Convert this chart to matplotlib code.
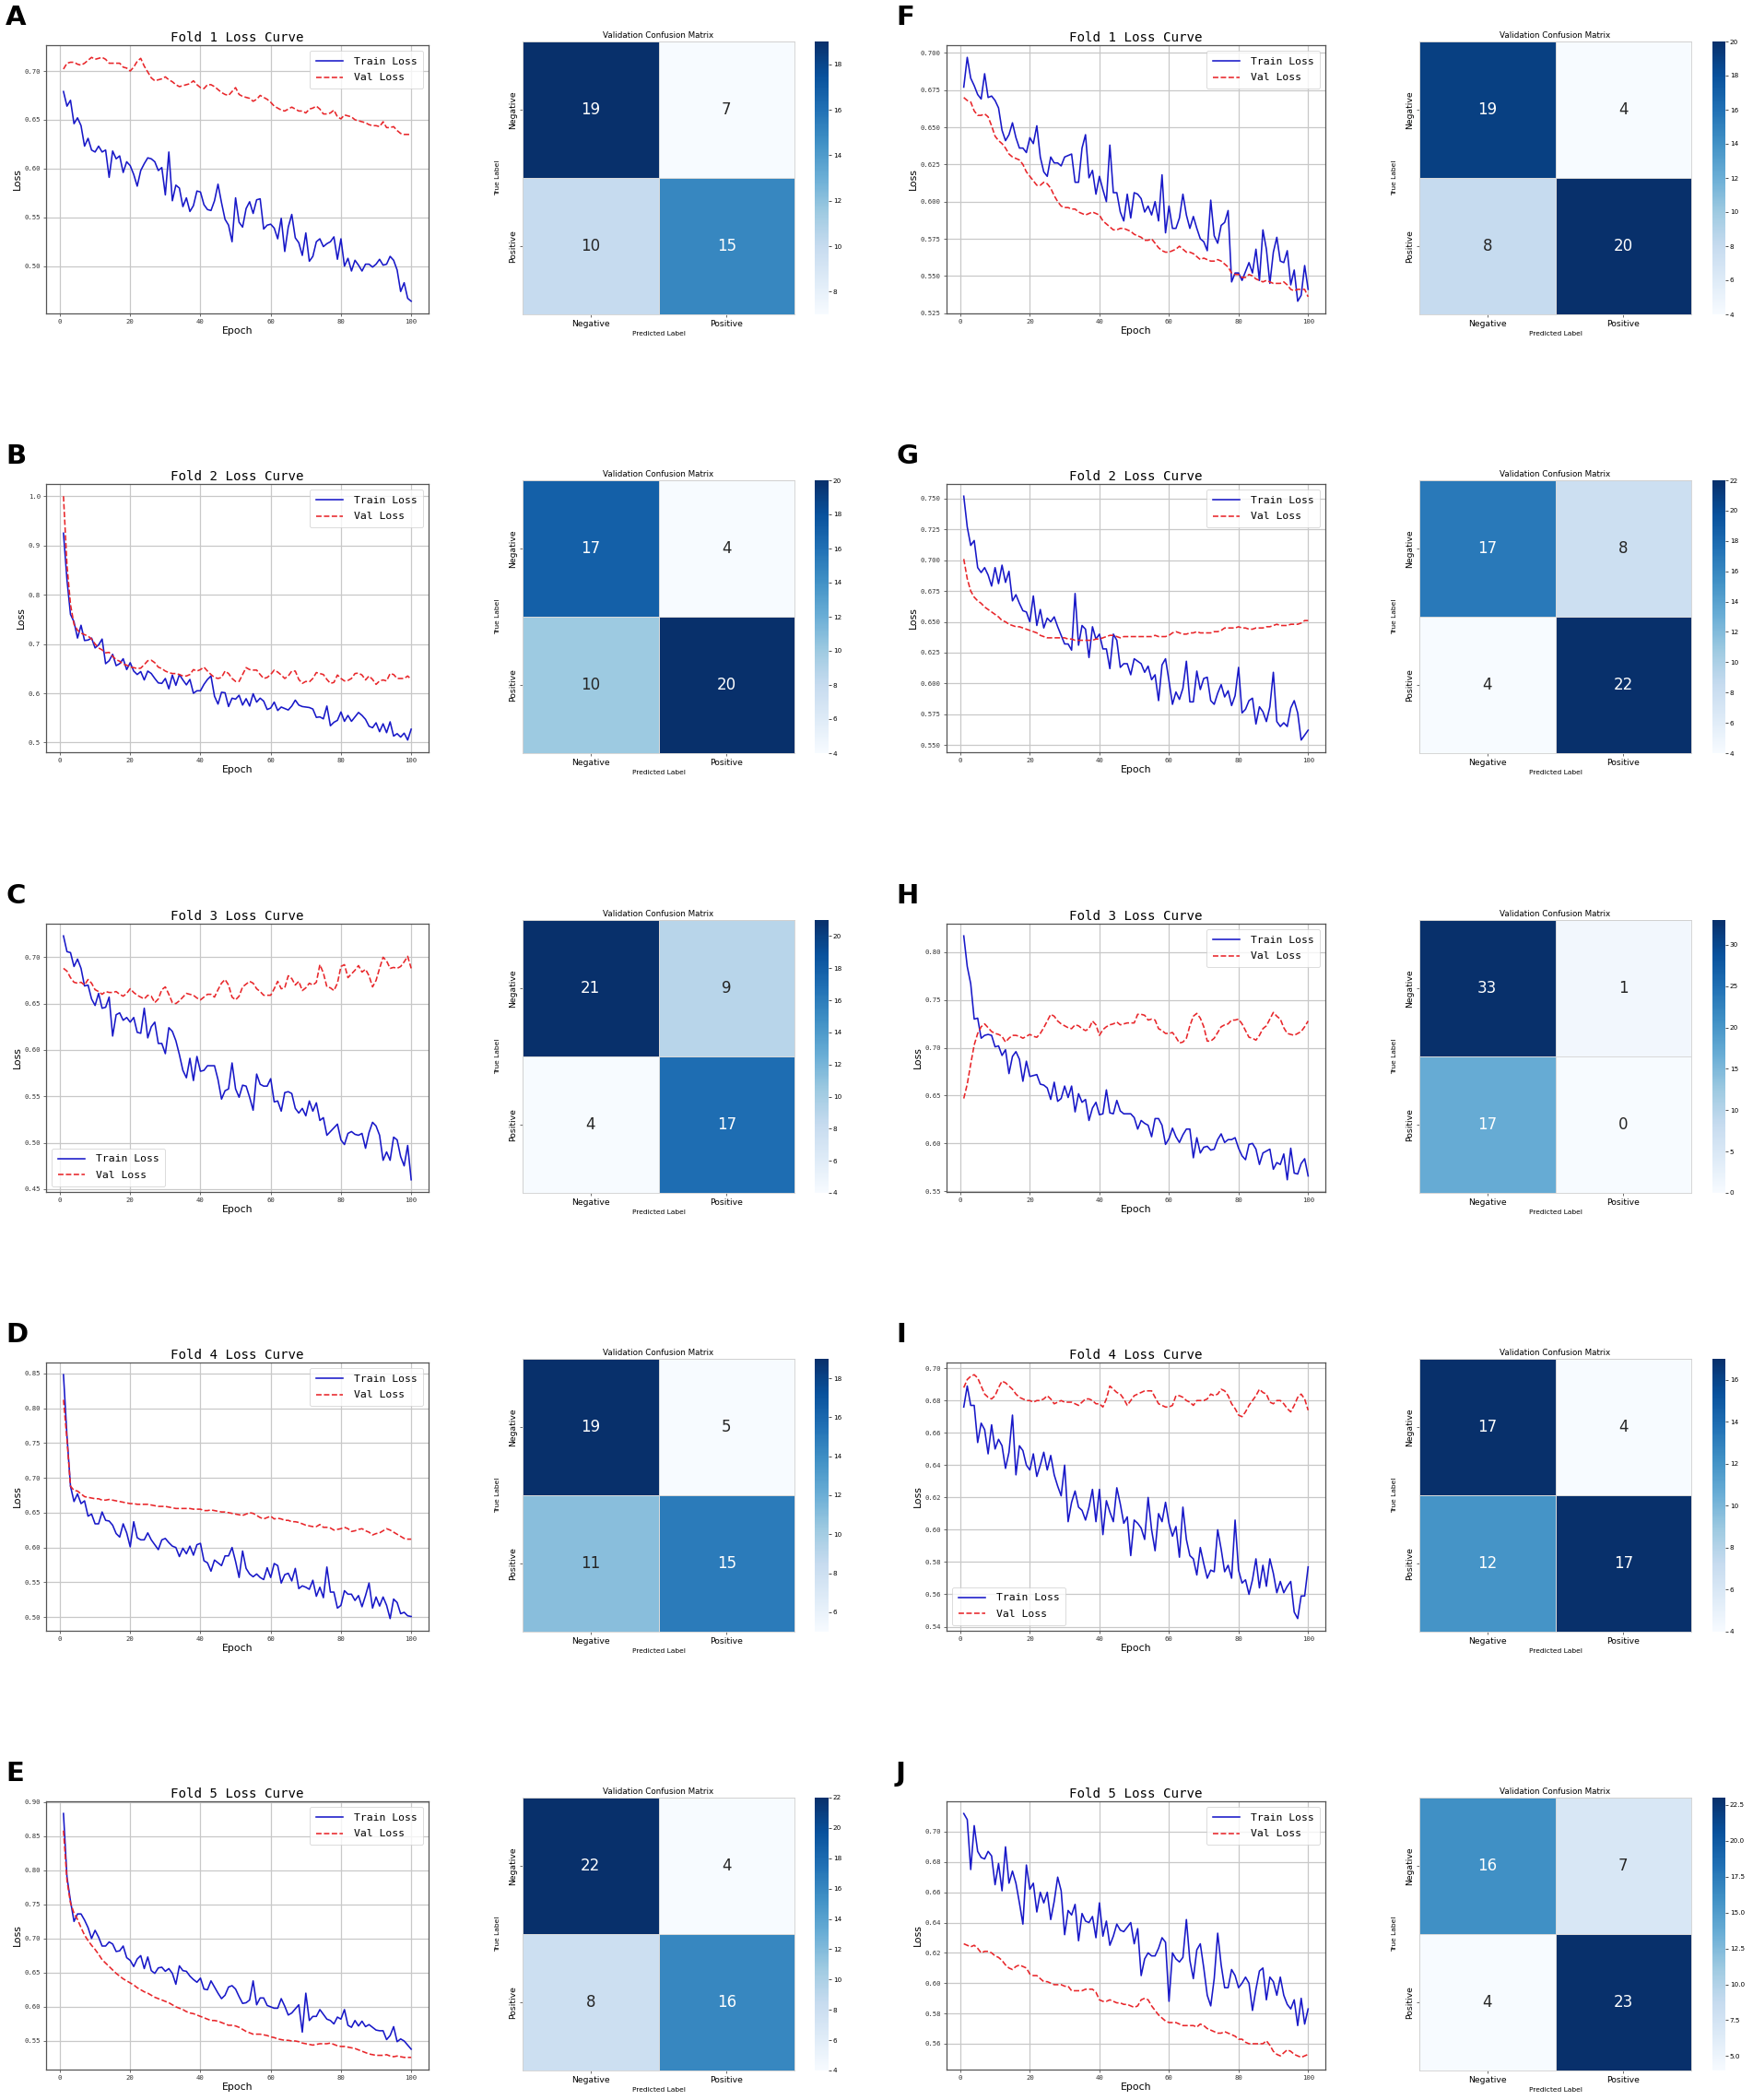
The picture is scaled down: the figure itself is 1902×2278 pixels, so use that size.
import numpy as np
import matplotlib
matplotlib.use("Agg")
import matplotlib.pyplot as plt
from matplotlib.colors import Normalize

epochs = list(range(1, 101))

trainA = [0.679,0.664,0.670,0.646,0.652,0.644,0.623,0.631,0.619,0.617,
          0.623,0.617,0.619,0.591,0.618,0.610,0.613,0.596,0.607,0.603,
          0.594,0.582,0.598,0.605,0.611,0.610,0.607,0.598,0.601,0.573,
          0.617,0.567,0.583,0.580,0.561,0.570,0.556,0.562,0.577,0.576,
          0.563,0.558,0.557,0.567,0.584,0.565,0.548,0.542,0.525,0.570,
          0.545,0.540,0.559,0.566,0.554,0.568,0.569,0.538,0.542,0.543,
          0.539,0.528,0.549,0.515,0.540,0.553,0.529,0.524,0.511,0.534,
          0.505,0.510,0.525,0.528,0.520,0.523,0.525,0.530,0.507,0.528,
          0.500,0.508,0.495,0.506,0.501,0.495,0.502,0.502,0.499,0.502,
          0.507,0.501,0.502,0.510,0.506,0.496,0.474,0.483,0.467,0.464]
valA = [0.702,0.708,0.709,0.709,0.707,0.706,0.708,0.711,0.714,0.712,
        0.713,0.714,0.712,0.708,0.708,0.708,0.708,0.704,0.703,0.700,
        0.704,0.710,0.713,0.705,0.699,0.693,0.690,0.691,0.692,0.694,
        0.691,0.689,0.686,0.684,0.685,0.686,0.687,0.690,0.686,0.683,
        0.682,0.686,0.686,0.684,0.681,0.678,0.676,0.675,0.679,0.683,
        0.676,0.674,0.673,0.672,0.669,0.671,0.675,0.673,0.671,0.668,
        0.664,0.662,0.660,0.659,0.661,0.663,0.661,0.659,0.659,0.657,
        0.661,0.662,0.664,0.661,0.656,0.656,0.657,0.660,0.653,0.651,
        0.655,0.654,0.653,0.650,0.649,0.648,0.647,0.645,0.644,0.644,
        0.643,0.648,0.642,0.642,0.643,0.639,0.636,0.635,0.635,0.635]
trainB = [0.925,0.830,0.760,0.745,0.712,0.738,0.707,0.708,0.712,0.692,
          0.698,0.710,0.660,0.666,0.679,0.656,0.660,0.670,0.648,0.662,
          0.645,0.638,0.644,0.627,0.645,0.640,0.630,0.621,0.620,0.630,
          0.609,0.637,0.616,0.638,0.627,0.617,0.628,0.600,0.605,0.605,
          0.618,0.628,0.635,0.594,0.578,0.602,0.601,0.573,0.590,0.588,
          0.596,0.576,0.589,0.574,0.599,0.582,0.590,0.584,0.567,0.570,
          0.582,0.565,0.572,0.569,0.566,0.574,0.586,0.576,0.573,0.572,
          0.571,0.568,0.551,0.552,0.548,0.574,0.534,0.541,0.545,0.562,
          0.543,0.555,0.543,0.552,0.561,0.555,0.547,0.533,0.530,0.540,
          0.522,0.538,0.520,0.542,0.513,0.518,0.511,0.519,0.505,0.527]
valB = [1.000,0.860,0.780,0.740,0.728,0.722,0.719,0.716,0.710,0.700,
        0.692,0.688,0.682,0.683,0.675,0.668,0.665,0.659,0.657,0.653,
        0.652,0.650,0.651,0.658,0.666,0.667,0.662,0.653,0.650,0.645,
        0.642,0.640,0.640,0.638,0.635,0.635,0.638,0.648,0.645,0.648,
        0.653,0.645,0.638,0.632,0.630,0.632,0.645,0.640,0.630,0.624,
        0.624,0.638,0.652,0.648,0.647,0.647,0.638,0.630,0.632,0.638,
        0.647,0.643,0.637,0.630,0.635,0.645,0.645,0.628,0.620,0.624,
        0.623,0.630,0.642,0.640,0.638,0.628,0.620,0.622,0.637,0.630,
        0.625,0.626,0.630,0.640,0.641,0.637,0.627,0.635,0.628,0.618,
        0.625,0.627,0.625,0.640,0.638,0.630,0.630,0.630,0.635,0.628]
trainC = [0.723,0.706,0.705,0.690,0.698,0.688,0.669,0.670,0.655,0.648,
          0.661,0.645,0.646,0.657,0.615,0.638,0.640,0.632,0.635,0.630,
          0.635,0.619,0.618,0.645,0.613,0.625,0.630,0.607,0.607,0.596,
          0.624,0.620,0.610,0.595,0.578,0.570,0.591,0.567,0.593,0.577,
          0.578,0.583,0.583,0.583,0.568,0.547,0.556,0.558,0.586,0.558,
          0.549,0.562,0.561,0.549,0.535,0.574,0.563,0.561,0.561,0.569,
          0.544,0.545,0.534,0.554,0.555,0.553,0.537,0.532,0.537,0.529,
          0.545,0.534,0.543,0.524,0.527,0.508,0.512,0.516,0.520,0.503,
          0.498,0.510,0.512,0.509,0.508,0.510,0.494,0.511,0.522,0.518,
          0.508,0.481,0.490,0.481,0.506,0.503,0.485,0.475,0.497,0.460]
valC = [0.688,0.685,0.678,0.673,0.672,0.673,0.670,0.676,0.672,0.665,
        0.663,0.660,0.663,0.662,0.662,0.663,0.660,0.658,0.661,0.666,
        0.662,0.659,0.657,0.655,0.659,0.658,0.651,0.655,0.665,0.668,
        0.660,0.651,0.650,0.653,0.657,0.661,0.660,0.659,0.656,0.654,
        0.657,0.660,0.660,0.657,0.665,0.672,0.676,0.670,0.657,0.654,
        0.658,0.668,0.671,0.674,0.672,0.666,0.663,0.659,0.659,0.659,
        0.666,0.674,0.666,0.667,0.680,0.677,0.670,0.674,0.664,0.667,
        0.672,0.670,0.673,0.692,0.683,0.668,0.667,0.664,0.672,0.690,
        0.692,0.678,0.682,0.686,0.691,0.684,0.687,0.680,0.668,0.675,
        0.688,0.700,0.696,0.688,0.689,0.688,0.690,0.695,0.701,0.688]
trainD = [0.848,0.760,0.688,0.666,0.677,0.663,0.667,0.645,0.648,0.634,
          0.634,0.651,0.639,0.638,0.632,0.620,0.615,0.634,0.621,0.601,
          0.637,0.614,0.611,0.611,0.621,0.611,0.604,0.597,0.611,0.613,
          0.607,0.602,0.600,0.587,0.599,0.591,0.602,0.589,0.604,0.606,
          0.581,0.578,0.566,0.582,0.578,0.574,0.588,0.588,0.600,0.580,
          0.557,0.595,0.570,0.562,0.558,0.562,0.557,0.554,0.571,0.557,
          0.577,0.574,0.549,0.561,0.563,0.552,0.570,0.541,0.545,0.543,
          0.540,0.553,0.530,0.543,0.528,0.572,0.536,0.536,0.513,0.517,
          0.538,0.533,0.533,0.524,0.531,0.515,0.531,0.549,0.513,0.529,
          0.516,0.529,0.517,0.498,0.526,0.521,0.505,0.507,0.502,0.501]
valD = [0.812,0.755,0.688,0.682,0.681,0.677,0.673,0.672,0.671,0.670,
        0.670,0.668,0.668,0.669,0.668,0.667,0.666,0.665,0.664,0.663,
        0.663,0.662,0.662,0.662,0.662,0.661,0.660,0.659,0.659,0.659,
        0.658,0.657,0.656,0.656,0.656,0.656,0.656,0.655,0.655,0.655,
        0.653,0.653,0.654,0.653,0.652,0.651,0.651,0.650,0.649,0.648,
        0.647,0.646,0.648,0.650,0.649,0.646,0.643,0.641,0.643,0.645,
        0.641,0.642,0.641,0.639,0.639,0.637,0.637,0.636,0.634,0.632,
        0.631,0.630,0.630,0.633,0.629,0.629,0.628,0.625,0.626,0.627,
        0.629,0.627,0.623,0.624,0.626,0.627,0.624,0.622,0.618,0.620,
        0.621,0.624,0.627,0.625,0.622,0.619,0.616,0.613,0.612,0.612]
trainE = [0.883,0.790,0.755,0.725,0.736,0.736,0.727,0.716,0.700,0.712,
          0.702,0.689,0.689,0.695,0.692,0.681,0.682,0.689,0.672,0.668,
          0.659,0.670,0.675,0.656,0.673,0.653,0.649,0.657,0.658,0.652,
          0.656,0.649,0.633,0.660,0.653,0.652,0.645,0.640,0.636,0.642,
          0.626,0.625,0.638,0.629,0.620,0.612,0.617,0.629,0.631,0.626,
          0.615,0.605,0.606,0.610,0.638,0.603,0.613,0.613,0.602,0.600,
          0.598,0.598,0.612,0.601,0.588,0.591,0.597,0.603,0.563,0.620,
          0.580,0.586,0.586,0.596,0.589,0.582,0.580,0.575,0.585,0.582,
          0.596,0.573,0.570,0.580,0.572,0.579,0.571,0.574,0.570,0.566,
          0.565,0.565,0.552,0.558,0.571,0.549,0.553,0.550,0.544,0.538]
valE = [0.858,0.785,0.752,0.737,0.728,0.716,0.705,0.697,0.690,0.684,
        0.677,0.669,0.664,0.659,0.654,0.649,0.645,0.641,0.638,0.635,
        0.632,0.628,0.625,0.622,0.620,0.617,0.614,0.612,0.610,0.608,
        0.606,0.603,0.600,0.598,0.596,0.593,0.591,0.590,0.588,0.586,
        0.584,0.582,0.580,0.580,0.579,0.577,0.575,0.573,0.573,0.572,
        0.570,0.567,0.564,0.562,0.560,0.560,0.560,0.559,0.558,0.556,
        0.555,0.553,0.552,0.551,0.551,0.550,0.550,0.549,0.547,0.546,
        0.545,0.544,0.545,0.546,0.546,0.546,0.547,0.545,0.543,0.542,
        0.542,0.541,0.540,0.539,0.537,0.535,0.533,0.531,0.530,0.529,
        0.529,0.529,0.530,0.528,0.527,0.528,0.527,0.526,0.526,0.526]
trainF = [0.677,0.697,0.683,0.678,0.672,0.669,0.686,0.670,0.671,0.668,
          0.663,0.648,0.641,0.645,0.653,0.643,0.636,0.636,0.633,0.643,
          0.639,0.651,0.630,0.620,0.617,0.630,0.626,0.626,0.624,0.630,
          0.631,0.632,0.613,0.613,0.636,0.645,0.616,0.621,0.605,0.617,
          0.608,0.600,0.638,0.606,0.606,0.593,0.587,0.605,0.589,0.606,
          0.605,0.602,0.593,0.597,0.591,0.600,0.587,0.618,0.579,0.597,
          0.582,0.582,0.589,0.605,0.591,0.582,0.590,0.582,0.575,0.573,
          0.567,0.601,0.577,0.572,0.584,0.586,0.594,0.546,0.552,0.552,
          0.547,0.553,0.559,0.552,0.568,0.547,0.581,0.568,0.545,0.566,
          0.576,0.560,0.559,0.567,0.544,0.554,0.533,0.537,0.557,0.541]
valF = [0.670,0.668,0.667,0.661,0.658,0.658,0.659,0.657,0.651,0.644,
        0.641,0.639,0.636,0.632,0.630,0.629,0.628,0.625,0.620,0.617,
        0.614,0.611,0.611,0.613,0.612,0.609,0.604,0.600,0.597,0.596,
        0.596,0.595,0.595,0.593,0.592,0.591,0.592,0.593,0.592,0.591,
        0.587,0.585,0.583,0.581,0.581,0.582,0.582,0.581,0.580,0.578,
        0.577,0.576,0.574,0.574,0.575,0.572,0.569,0.567,0.566,0.566,
        0.567,0.568,0.570,0.568,0.566,0.566,0.565,0.563,0.561,0.562,
        0.561,0.560,0.560,0.561,0.560,0.558,0.556,0.552,0.551,0.551,
        0.549,0.549,0.551,0.550,0.548,0.547,0.546,0.547,0.546,0.545,
        0.545,0.545,0.546,0.544,0.541,0.540,0.541,0.541,0.541,0.536]
trainG = [0.752,0.727,0.712,0.716,0.694,0.690,0.694,0.688,0.679,0.694,
          0.681,0.696,0.682,0.691,0.667,0.672,0.665,0.659,0.658,0.650,
          0.671,0.647,0.660,0.645,0.653,0.650,0.654,0.646,0.639,0.632,
          0.632,0.627,0.673,0.631,0.647,0.644,0.621,0.646,0.636,0.640,
          0.628,0.628,0.612,0.640,0.635,0.613,0.616,0.616,0.607,0.620,
          0.618,0.616,0.609,0.614,0.603,0.607,0.586,0.615,0.620,0.602,
          0.583,0.593,0.587,0.596,0.618,0.585,0.585,0.610,0.595,0.604,
          0.605,0.586,0.583,0.592,0.599,0.589,0.594,0.582,0.590,0.613,
          0.576,0.579,0.586,0.588,0.567,0.581,0.577,0.569,0.581,0.609,
          0.569,0.565,0.568,0.565,0.580,0.586,0.576,0.554,0.558,0.562]
valG = [0.701,0.685,0.675,0.670,0.667,0.665,0.662,0.660,0.658,0.656,
        0.654,0.651,0.650,0.648,0.647,0.646,0.646,0.645,0.644,0.643,
        0.642,0.641,0.639,0.638,0.637,0.637,0.637,0.637,0.637,0.637,
        0.636,0.636,0.635,0.635,0.635,0.635,0.635,0.635,0.636,0.636,
        0.637,0.638,0.639,0.639,0.638,0.637,0.638,0.638,0.638,0.638,
        0.638,0.638,0.638,0.638,0.638,0.639,0.638,0.638,0.638,0.639,
        0.641,0.642,0.641,0.640,0.640,0.641,0.641,0.642,0.641,0.641,
        0.641,0.641,0.642,0.642,0.643,0.645,0.645,0.645,0.645,0.646,
        0.645,0.645,0.644,0.644,0.645,0.645,0.645,0.646,0.646,0.647,
        0.648,0.647,0.647,0.647,0.648,0.648,0.648,0.649,0.651,0.651]
trainH = [0.817,0.785,0.767,0.730,0.731,0.710,0.713,0.714,0.713,0.701,
          0.702,0.692,0.698,0.673,0.691,0.696,0.688,0.665,0.686,0.670,
          0.671,0.672,0.662,0.661,0.658,0.646,0.664,0.644,0.647,0.660,
          0.648,0.660,0.633,0.652,0.643,0.646,0.624,0.637,0.643,0.630,
          0.631,0.656,0.632,0.631,0.645,0.634,0.631,0.631,0.631,0.627,
          0.615,0.624,0.621,0.619,0.607,0.626,0.626,0.619,0.599,0.605,
          0.616,0.607,0.601,0.609,0.615,0.615,0.585,0.606,0.590,0.596,
          0.597,0.593,0.594,0.604,0.610,0.601,0.604,0.604,0.606,0.595,
          0.587,0.583,0.599,0.600,0.594,0.578,0.590,0.592,0.594,0.573,
          0.580,0.578,0.589,0.562,0.595,0.569,0.568,0.579,0.584,0.566]
valH = [0.647,0.662,0.683,0.703,0.715,0.722,0.725,0.721,0.717,0.715,
        0.714,0.712,0.706,0.710,0.713,0.713,0.712,0.710,0.712,0.714,
        0.712,0.711,0.715,0.721,0.728,0.735,0.733,0.728,0.725,0.723,
        0.721,0.720,0.724,0.723,0.720,0.718,0.720,0.728,0.724,0.713,
        0.719,0.722,0.724,0.725,0.727,0.724,0.725,0.726,0.726,0.726,
        0.735,0.735,0.734,0.729,0.730,0.729,0.720,0.718,0.715,0.715,
        0.716,0.711,0.705,0.706,0.710,0.723,0.733,0.736,0.731,0.722,
        0.707,0.707,0.710,0.716,0.722,0.724,0.725,0.729,0.729,0.730,
        0.725,0.718,0.711,0.710,0.708,0.713,0.720,0.723,0.730,0.737,
        0.733,0.730,0.721,0.715,0.714,0.713,0.715,0.717,0.722,0.728]
trainI = [0.676,0.689,0.677,0.677,0.654,0.666,0.662,0.647,0.665,0.650,
          0.656,0.652,0.638,0.648,0.671,0.634,0.652,0.649,0.640,0.637,
          0.647,0.633,0.640,0.648,0.637,0.646,0.634,0.627,0.621,0.640,
          0.605,0.617,0.624,0.614,0.612,0.606,0.614,0.625,0.605,0.625,
          0.597,0.618,0.611,0.605,0.626,0.616,0.604,0.608,0.584,0.606,
          0.604,0.601,0.594,0.620,0.600,0.587,0.610,0.605,0.617,0.604,
          0.596,0.602,0.583,0.614,0.594,0.584,0.582,0.572,0.589,0.579,
          0.570,0.575,0.574,0.600,0.588,0.574,0.578,0.570,0.606,0.575,
          0.567,0.569,0.560,0.569,0.582,0.564,0.578,0.565,0.582,0.573,
          0.561,0.568,0.561,0.565,0.568,0.549,0.545,0.559,0.559,0.577]
valI = [0.688,0.693,0.695,0.696,0.694,0.689,0.684,0.682,0.681,0.683,
        0.688,0.692,0.691,0.689,0.687,0.684,0.682,0.681,0.680,0.680,
        0.679,0.680,0.680,0.681,0.683,0.681,0.678,0.679,0.680,0.679,
        0.679,0.679,0.678,0.677,0.679,0.681,0.681,0.680,0.678,0.678,
        0.676,0.681,0.689,0.687,0.685,0.684,0.681,0.677,0.680,0.683,
        0.684,0.685,0.686,0.686,0.686,0.682,0.678,0.677,0.676,0.676,
        0.677,0.683,0.683,0.682,0.680,0.679,0.677,0.680,0.680,0.680,
        0.681,0.684,0.683,0.684,0.687,0.686,0.683,0.678,0.675,0.671,
        0.670,0.673,0.677,0.680,0.683,0.687,0.685,0.684,0.679,0.678,
        0.680,0.680,0.678,0.675,0.673,0.677,0.682,0.684,0.681,0.674]
trainJ = [0.712,0.708,0.675,0.704,0.687,0.683,0.682,0.687,0.684,0.665,
          0.679,0.661,0.690,0.666,0.674,0.666,0.653,0.639,0.678,0.662,
          0.666,0.647,0.660,0.653,0.660,0.642,0.654,0.670,0.661,0.632,
          0.648,0.645,0.652,0.628,0.646,0.641,0.640,0.644,0.630,0.653,
          0.631,0.641,0.625,0.631,0.639,0.635,0.634,0.637,0.640,0.626,
          0.636,0.605,0.616,0.620,0.618,0.618,0.623,0.630,0.627,0.588,
          0.620,0.616,0.614,0.617,0.642,0.615,0.603,0.622,0.626,0.610,
          0.592,0.585,0.603,0.633,0.612,0.597,0.597,0.609,0.605,0.597,
          0.600,0.604,0.600,0.582,0.596,0.608,0.610,0.589,0.604,0.601,
          0.592,0.604,0.592,0.586,0.583,0.589,0.572,0.590,0.573,0.583]
valJ = [0.626,0.625,0.624,0.625,0.623,0.620,0.621,0.621,0.620,0.618,
        0.617,0.615,0.612,0.610,0.609,0.611,0.612,0.611,0.610,0.606,
        0.605,0.605,0.603,0.601,0.601,0.600,0.599,0.599,0.599,0.598,
        0.598,0.595,0.595,0.595,0.595,0.596,0.596,0.596,0.594,0.589,
        0.588,0.588,0.589,0.588,0.587,0.587,0.586,0.586,0.585,0.584,
        0.585,0.589,0.590,0.589,0.585,0.582,0.579,0.577,0.575,0.574,
        0.574,0.574,0.573,0.572,0.572,0.572,0.572,0.571,0.573,0.572,
        0.570,0.569,0.568,0.567,0.567,0.568,0.567,0.566,0.565,0.563,
        0.563,0.561,0.560,0.560,0.560,0.560,0.560,0.562,0.559,0.555,
        0.553,0.552,0.554,0.556,0.555,0.553,0.552,0.551,0.552,0.553]

cmA = [[19, 7], [10, 15]]
cmB = [[17, 4], [10, 20]]
cmC = [[21, 9], [4, 17]]
cmD = [[19, 5], [11, 15]]
cmE = [[22, 4], [8, 16]]
cmF = [[19, 4], [8, 20]]
cmG = [[17, 8], [4, 22]]
cmH = [[33, 1], [17, 0]]
cmI = [[17, 4], [12, 17]]
cmJ = [[16, 7], [4, 23]]

yticksA = [0.50, 0.55, 0.60, 0.65, 0.70]
yticksB = [0.5, 0.6, 0.7, 0.8, 0.9, 1.0]
yticksC = [0.45, 0.50, 0.55, 0.60, 0.65, 0.70]
yticksD = [0.50, 0.55, 0.60, 0.65, 0.70, 0.75, 0.80, 0.85]
yticksE = [0.55, 0.60, 0.65, 0.70, 0.75, 0.80, 0.85, 0.90]
yticksF = [0.525, 0.550, 0.575, 0.600, 0.625, 0.650, 0.675, 0.700]
yticksG = [0.550, 0.575, 0.600, 0.625, 0.650, 0.675, 0.700, 0.725, 0.750]
yticksH = [0.55, 0.60, 0.65, 0.70, 0.75, 0.80]
yticksI = [0.54, 0.56, 0.58, 0.60, 0.62, 0.64, 0.66, 0.68, 0.70]
yticksJ = [0.56, 0.58, 0.60, 0.62, 0.64, 0.66, 0.68, 0.70]
xticks = [0, 20, 40, 60, 80, 100]

panel_letters = ["A", "B", "C", "D", "E", "F", "G", "H", "I", "J"]
fold_titles = ["Fold 1 Loss Curve", "Fold 2 Loss Curve", "Fold 3 Loss Curve",
               "Fold 4 Loss Curve", "Fold 5 Loss Curve"]
class_labels = ["Negative", "Positive"]

trains = [trainA, trainB, trainC, trainD, trainE, trainF, trainG, trainH, trainI, trainJ]
vals = [valA, valB, valC, valD, valE, valF, valG, valH, valI, valJ]
cms = [cmA, cmB, cmC, cmD, cmE, cmF, cmG, cmH, cmI, cmJ]
yticks_all = [yticksA, yticksB, yticksC, yticksD, yticksE,
              yticksF, yticksG, yticksH, yticksI, yticksJ]
legend_locs = ["upper right", "upper right", "lower left", "upper right", "upper right",
               "upper right", "upper right", "upper right", "lower left", "upper right"]

W, H = 1902, 2278
fig = plt.figure(figsize=(W / 100, H / 100), dpi=100)
fig.patch.set_facecolor("white")


def box(x0, y0, w, h):
    return [x0 / W, 1 - (y0 + h) / H, w / W, h / H]


MONO = "DejaVu Sans Mono"
SANS = "DejaVu Sans"
row_tops = [49, 525, 1002, 1478, 1954]
cmap = plt.get_cmap("Blues")


def rel_lum(c):
    rgb = np.array(c[:3])
    rgb = np.where(rgb <= 0.03928, rgb / 12.92, ((rgb + 0.055) / 1.055) ** 2.4)
    return 0.2126 * rgb[0] + 0.7152 * rgb[1] + 0.0722 * rgb[2]


for i in range(10):
    col = i // 5
    row = i % 5
    top = row_tops[row]
    if col == 0:
        lx, lw = 50, 415
        cx, cbx, cbw = 567, 884, 15
        letx = 6
    else:
        lx, lw = 1027, 411
        cx, cbx, cbw = 1540, 1858, 14
        letx = 972

    # ---- loss curve ----
    ax = fig.add_axes(box(lx, top, lw, 291))
    ax.plot(epochs, trains[i], color="#1818c8", lw=1.15, label="Train Loss")
    ax.plot(epochs, vals[i], color="#e8262a", lw=1.15, ls="--", label="Val Loss")
    ax.set_xticks(xticks)
    ax.set_yticks(yticks_all[i])
    ax.grid(True, color="#c8c8c8", lw=0.9)
    ax.set_axisbelow(True)
    for s in ax.spines.values():
        s.set_color("#555555")
        s.set_linewidth(0.9)
    ax.tick_params(labelsize=5.2, length=2.5, width=0.6, color="#555555", pad=2,
                   labelcolor="#333333")
    for lab in ax.get_xticklabels() + ax.get_yticklabels():
        lab.set_fontfamily(MONO)
    ax.set_title(fold_titles[row], fontfamily=MONO, fontsize=10.2, pad=3)
    ax.set_xlabel("Epoch", fontfamily=SANS, fontsize=7.8, labelpad=1)
    ax.set_ylabel("Loss", fontfamily=SANS, fontsize=7.8, labelpad=2)
    leg = ax.legend(loc=legend_locs[i], prop={"family": MONO, "size": 8.2},
                    frameon=True, fancybox=True, handlelength=2.6,
                    handletextpad=1.0, labelspacing=0.7, borderpad=0.6)
    leg.get_frame().set_edgecolor("#cccccc")
    leg.get_frame().set_linewidth(0.6)

    fig.text(letx / W, 1 - (top - 44) / H, panel_letters[i], fontsize=21,
             fontweight="bold", fontfamily=SANS, va="top", ha="left")

    # ---- confusion matrix ----
    m = np.array(cms[i])
    norm = Normalize(vmin=m.min(), vmax=m.max())
    cax_ = fig.add_axes(box(cx, top - 4, 295, 296))
    mesh = cax_.pcolormesh(np.arange(3), np.arange(3), m, cmap=cmap, norm=norm,
                           edgecolors="#d9d9d9", linewidth=0.5)
    cax_.set_xlim(0, 2)
    cax_.set_ylim(2, 0)
    for r in range(2):
        for c in range(2):
            v = m[r, c]
            color = cmap(norm(v))
            tc = "#262626" if rel_lum(color) > 0.408 else "white"
            cax_.text(c + 0.5, r + 0.5, str(v), ha="center", va="center",
                      fontsize=12, color=tc, fontfamily=SANS)
    cax_.set_xticks([0.5, 1.5])
    cax_.set_xticklabels(class_labels, fontsize=6.7, fontfamily=SANS)
    cax_.set_yticks([0.5, 1.5])
    cax_.set_yticklabels(class_labels, fontsize=6.7, fontfamily=SANS,
                         rotation=90, va="center")
    cax_.tick_params(length=2.5, width=0.5, pad=2, color="#333333")
    for s in cax_.spines.values():
        s.set_color("#d0d0d0")
        s.set_linewidth(0.6)
    cax_.set_title("Validation Confusion Matrix", fontsize=6.3, fontfamily=SANS, pad=3)
    cax_.set_xlabel("Predicted Label", fontsize=5.4, fontfamily=SANS, labelpad=2)
    cax_.set_ylabel("True Label", fontsize=5.4, fontfamily=SANS, labelpad=6)

    cbax = fig.add_axes(box(cbx, top - 4, cbw, 296))
    cb = fig.colorbar(mesh, cax=cbax)
    cb.outline.set_visible(False)
    cbax.tick_params(labelsize=5.2, length=2, width=0.5, pad=1.5)

fig.savefig("out.png", dpi=100, facecolor="white")
